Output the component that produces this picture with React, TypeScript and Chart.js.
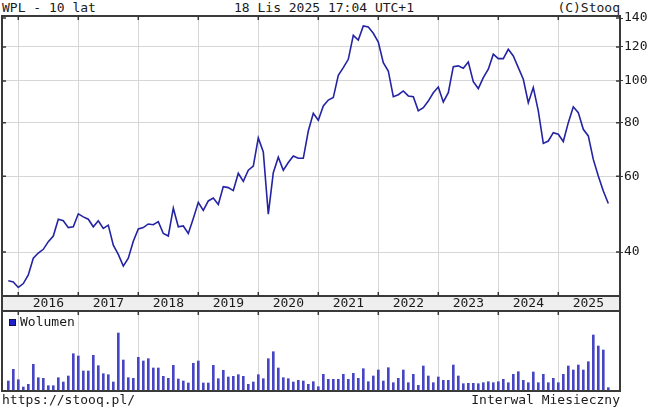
import React, { useEffect, useRef } from 'react';
import { Chart, registerables } from 'chart.js';

Chart.register(...registerables);

// ---- texts ----
const TITLE_LEFT = 'WPL - 10 lat';
const TITLE_CENTER = '18 Lis 2025 17:04 UTC+1';
const TITLE_RIGHT = '(C)Stooq';
const FOOT_LEFT = 'https://stooq.pl/';
const FOOT_RIGHT = 'Interwal Miesieczny';
const VOLUME_LABEL = 'Wolumen';

// ---- data: monthly closes, index 0 = Nov 2015 ... index 120 = Nov 2025 ----
const FIRST_YEAR = 2015;
const FIRST_MONTH = 10; // 0-based (November)
const YEARS = ['2016', '2017', '2018', '2019', '2020', '2021', '2022', '2023', '2024', '2025'];
const PRICE_TICKS = [40, 60, 80, 100, 120, 140];

const PRICES = [
  34.3, 34.1, 33.1, 33.8, 35.4, 38.7, 39.8, 40.6, 42.3, 43.6,
  47.7, 47.3, 45.6, 45.8, 49.1, 48.3, 47.7, 45.8, 47.3, 45.4,
  46.2, 41.5, 39.5, 37.1, 38.7, 42.4, 45.3, 45.6, 46.5, 46.3,
  47.1, 44.2, 43.6, 50.6, 45.8, 46.0, 44.2, 47.9, 52.2, 50.0,
  52.6, 53.4, 51.6, 56.8, 56.5, 55.6, 61.0, 58.4, 62.0, 63.4,
  73.7, 68.4, 49.0, 61.2, 66.5, 62.0, 64.6, 66.9, 66.1, 66.1,
  76.5, 84.1, 81.0, 87.5, 90.3, 91.5, 103.1, 107.4, 112.3, 127.7,
  124.5, 134.2, 133.5, 129.1, 123.2, 110.3, 105.5, 91.9, 92.9, 94.8,
  92.3, 91.9, 85.2, 86.7, 89.8, 93.9, 96.8, 89.4, 93.9, 108.0,
  108.4, 107.0, 110.7, 99.6, 96.0, 101.8, 106.5, 115.4, 112.7, 112.7,
  118.5, 114.3, 107.4, 100.9, 89.0, 96.5, 85.2, 71.6, 72.5, 75.8,
  75.2, 72.3, 80.0, 87.1, 84.4, 77.2, 74.5, 65.7, 60.1, 55.5,
  51.9,
];

// monthly volume (thousands of shares, estimated)
const VOLUMES = [
  10.0, 21.7, 11.3, 4.0, 6.7, 26.7, 13.3, 12.7, 5.3, 5.3,
  13.3, 9.0, 15.0, 37.3, 35.0, 20.0, 20.0, 35.7, 25.3, 17.3,
  16.3, 9.0, 58.0, 31.0, 13.3, 12.7, 33.7, 30.0, 32.3, 23.0,
  23.0, 14.7, 12.7, 25.7, 12.0, 10.0, 8.0, 27.7, 30.0, 8.0,
  8.0, 25.7, 12.3, 20.7, 14.0, 14.7, 16.3, 14.7, 6.7, 9.0,
  16.3, 12.3, 32.3, 39.3, 23.0, 13.3, 12.3, 9.0, 10.7, 10.0,
  6.7, 9.3, 4.3, 16.7, 11.7, 11.7, 11.7, 16.7, 11.7, 17.7,
  12.7, 22.3, 9.3, 15.0, 21.0, 10.0, 23.3, 8.3, 12.7, 21.0,
  8.3, 16.7, 5.7, 25.0, 15.0, 8.3, 14.0, 10.7, 10.7, 26.0,
  15.0, 7.3, 7.7, 7.7, 7.3, 8.3, 9.3, 8.3, 9.3, 11.7,
  8.3, 16.7, 19.3, 10.7, 8.3, 19.0, 8.3, 16.7, 8.3, 12.7,
  8.3, 16.7, 25.0, 21.0, 26.0, 21.0, 29.3, 56.0, 45.0, 41.0,
  3.3,
];

// ---- styling ----
const FONT = '"DejaVu Sans Mono", monospace';
const TEXT = '#1a1a1a';
const GRID = '#d6d6d6';
const FRAME = '#3a3a3a';
const LINE = '#2323a3';
const BAR = '#4646c4';

const X_MIN = -1.26;
const X_MAX = 122.34;
const Y_MIN = 31.62;
const Y_MAX = 141.6;
const VOL_MAX = 80;

const yearStart = (k: number) => (FIRST_YEAR + 1 + k - FIRST_YEAR) * 12 - FIRST_MONTH - 12 + 12 * 0;
const YEAR_STARTS = YEARS.map((y) => (Number(y) - FIRST_YEAR) * 12 - FIRST_MONTH);
const YEAR_MIDS = YEAR_STARTS.map((s) => s + 6);
void yearStart;

const priceFrame = {
  id: 'priceFrame',
  beforeDraw(chart: any) {
    const { ctx, chartArea: a, scales } = chart;
    ctx.save();
    ctx.fillStyle = '#efefef';
    ctx.fillRect(a.left, a.bottom, a.right - a.left, scales.x.bottom - a.bottom);
    ctx.restore();
  },
  afterDraw(chart: any) {
    const { ctx, chartArea: a, scales } = chart;
    ctx.save();
    ctx.strokeStyle = FRAME;
    ctx.lineWidth = 2;
    ctx.strokeRect(a.left, a.top, a.right - a.left, a.bottom - a.top);
    ctx.beginPath();
    ctx.moveTo(a.left, a.bottom);
    ctx.lineTo(a.left, scales.x.bottom);
    ctx.moveTo(a.right, a.bottom);
    ctx.lineTo(a.right, scales.x.bottom);
    ctx.stroke();
    ctx.lineWidth = 1.5;
    ctx.beginPath();
    for (const s of YEAR_STARTS) {
      const px = scales.x.getPixelForValue(s);
      ctx.moveTo(px, a.top);
      ctx.lineTo(px, a.top + 4);
      ctx.moveTo(px, a.bottom);
      ctx.lineTo(px, a.bottom - 4);
    }
    for (const v of PRICE_TICKS) {
      const py = scales.y.getPixelForValue(v);
      ctx.moveTo(a.left, py);
      ctx.lineTo(a.left + 4, py);
      ctx.moveTo(a.right - 4, py);
      ctx.lineTo(a.right, py);
    }
    ctx.stroke();
    ctx.restore();
  },
};

const volumeFrame = {
  id: 'volumeFrame',
  afterDraw(chart: any) {
    const { ctx, chartArea: a, scales } = chart;
    ctx.save();
    ctx.strokeStyle = FRAME;
    ctx.lineWidth = 2;
    ctx.strokeRect(a.left, a.top, a.right - a.left, a.bottom - a.top);
    ctx.lineWidth = 1.5;
    ctx.beginPath();
    for (const s of YEAR_STARTS) {
      const px = scales.x.getPixelForValue(s);
      ctx.moveTo(px, a.top);
      ctx.lineTo(px, a.top + 4);
    }
    ctx.stroke();
    // legend
    ctx.fillStyle = '#2020c8';
    ctx.fillRect(a.left + 7, a.top + 8, 7, 7);
    ctx.lineWidth = 1;
    ctx.strokeStyle = '#10105a';
    ctx.strokeRect(a.left + 7.5, a.top + 8.5, 6, 6);
    ctx.fillStyle = TEXT;
    ctx.font = '13px ' + FONT;
    ctx.textBaseline = 'middle';
    ctx.textAlign = 'left';
    ctx.fillText(VOLUME_LABEL, a.left + 18, a.top + 12);
    ctx.restore();
  },
};

export default function App() {
  const priceRef = useRef<HTMLCanvasElement>(null);
  const volRef = useRef<HTMLCanvasElement>(null);

  useEffect(() => {
    Chart.defaults.font.family = FONT;
    Chart.defaults.font.size = 13;
    Chart.defaults.color = TEXT;

    const pricePoints = PRICES.map((v, i) => ({ x: i, y: v }));
    const volPoints = VOLUMES.map((v, i) => ({ x: i, y: v }));
    const xTicks = [...YEAR_STARTS, ...YEAR_MIDS].sort((a, b) => a - b);

    const priceChart = new Chart(priceRef.current as HTMLCanvasElement, {
      type: 'line',
      data: {
        datasets: [
          {
            data: pricePoints,
            borderColor: LINE,
            borderWidth: 1.6,
            pointRadius: 0,
            tension: 0,
            fill: false,
          },
        ],
      },
      options: {
        animation: false,
        responsive: false,
        devicePixelRatio: 1,
        layout: { padding: { left: 2, right: 0, top: 16, bottom: 0 } },
        plugins: { legend: { display: false }, tooltip: { enabled: false } },
        scales: {
          x: {
            type: 'linear',
            min: X_MIN,
            max: X_MAX,
            afterBuildTicks: (s: any) => {
              s.ticks = xTicks.map((v) => ({ value: v }));
            },
            afterFit: (s: any) => {
              s.height = 15;
            },
            grid: {
              color: (c: any) =>
                c.tick && YEAR_STARTS.includes(c.tick.value) ? GRID : 'rgba(0,0,0,0)',
              drawTicks: false,
              lineWidth: 1,
            },
            border: { display: false },
            ticks: {
              autoSkip: false,
              maxRotation: 0,
              padding: 0,
              color: TEXT,
              callback: (v: any) => {
                const idx = YEAR_MIDS.indexOf(Number(v));
                return idx >= 0 ? YEARS[idx] : '';
              },
            },
          },
          y: {
            type: 'logarithmic',
            position: 'right',
            min: Y_MIN,
            max: Y_MAX,
            afterBuildTicks: (s: any) => {
              s.ticks = PRICE_TICKS.map((v) => ({ value: v }));
            },
            afterFit: (s: any) => {
              s.width = 30;
            },
            grid: {
              color: (c: any) => (c.tick && c.tick.value === 140 ? 'rgba(0,0,0,0)' : GRID),
              tickColor: FRAME,
              tickLength: 3,
              lineWidth: 1,
            },
            border: { display: false },
            ticks: {
              padding: 1,
              color: TEXT,
              callback: (v: any) => String(v),
            },
          },
        },
      },
      plugins: [priceFrame],
    } as any);

    const volChart = new Chart(volRef.current as HTMLCanvasElement, {
      type: 'bar',
      data: {
        datasets: [
          {
            label: VOLUME_LABEL,
            data: volPoints,
            backgroundColor: BAR,
            barThickness: 2,
          },
        ],
      },
      options: {
        animation: false,
        responsive: false,
        devicePixelRatio: 1,
        layout: { padding: { left: 2, right: 30, top: 6, bottom: 6 } },
        plugins: { legend: { display: false }, tooltip: { enabled: false } },
        scales: {
          x: {
            type: 'linear',
            min: X_MIN,
            max: X_MAX,
            offset: false,
            afterBuildTicks: (s: any) => {
              s.ticks = YEAR_STARTS.map((v) => ({ value: v }));
            },
            afterFit: (s: any) => {
              s.height = 0;
            },
            grid: { color: GRID, drawTicks: false, lineWidth: 1, offset: false },
            border: { display: false },
            ticks: { display: false },
          },
          y: {
            display: false,
            min: 0,
            max: VOL_MAX,
          },
        },
      },
      plugins: [volumeFrame],
    } as any);

    return () => {
      priceChart.destroy();
      volChart.destroy();
    };
  }, []);

  const textStyle: React.CSSProperties = {
    position: 'absolute',
    whiteSpace: 'pre',
    fontFamily: FONT,
    fontSize: 13,
    lineHeight: '15px',
    color: TEXT,
  };

  return (
    <div
      style={{
        position: 'absolute',
        left: 0,
        top: 0,
        width: 650,
        height: 412,
        background: '#ffffff',
        overflow: 'hidden',
      }}
    >
      <div style={{ ...textStyle, left: 2, top: 0 }}>{TITLE_LEFT}</div>
      <div style={{ ...textStyle, left: 234, top: 0 }}>{TITLE_CENTER}</div>
      <div style={{ ...textStyle, right: 30, top: 0, textAlign: 'right' }}>{TITLE_RIGHT}</div>
      <canvas
        ref={priceRef}
        width={650}
        height={311}
        style={{ position: 'absolute', left: 0, top: 0 }}
      />
      <canvas
        ref={volRef}
        width={650}
        height={92}
        style={{ position: 'absolute', left: 0, top: 305 }}
      />
      <div style={{ ...textStyle, left: 2, top: 392 }}>{FOOT_LEFT}</div>
      <div style={{ ...textStyle, right: 30, top: 392, textAlign: 'right' }}>{FOOT_RIGHT}</div>
    </div>
  );
}
